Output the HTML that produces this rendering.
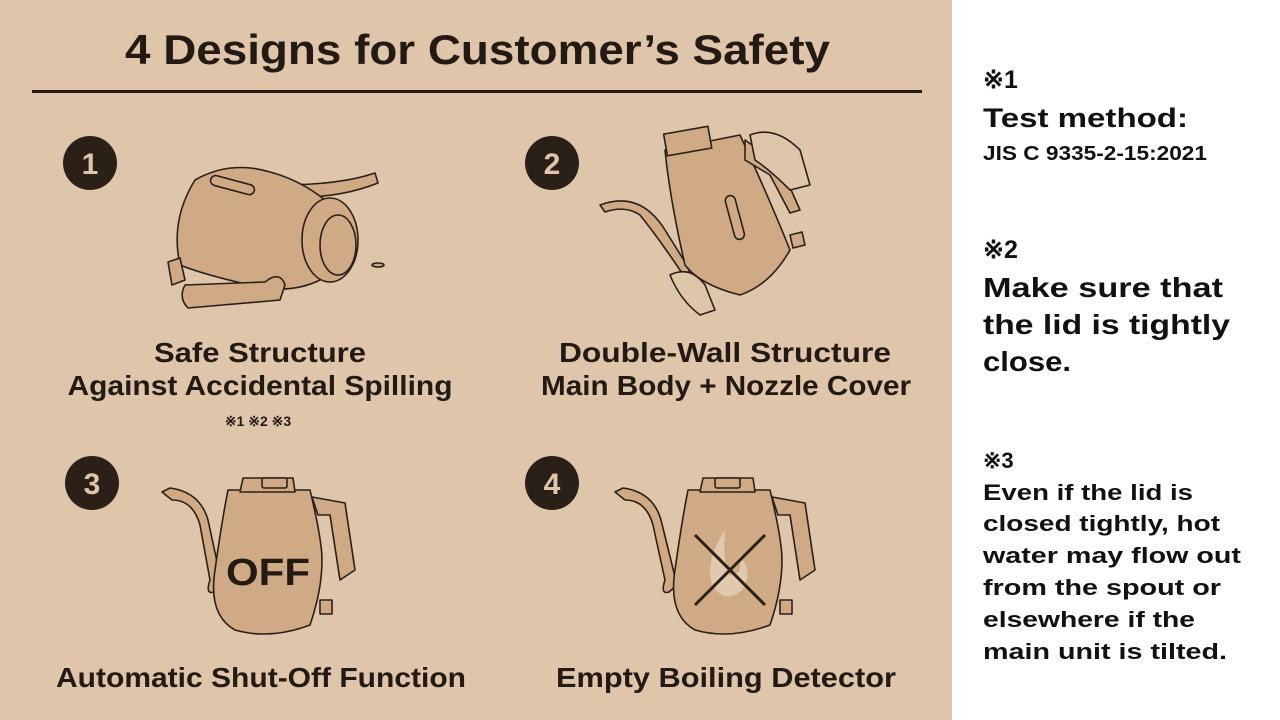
<!DOCTYPE html>
<html><head><meta charset="utf-8"><style>
html,body{margin:0;padding:0;background:#fff}
svg{display:block}
text{font-family:"Liberation Sans",sans-serif;font-weight:bold}
</style></head><body>
<svg width="1280" height="720" viewBox="0 0 1280 720" xmlns="http://www.w3.org/2000/svg">
<rect x="0" y="0" width="952" height="720" fill="#dfc5aa"/>
<rect x="952" y="0" width="328" height="720" fill="#ffffff"/>
<text x="125" y="64" font-size="42" fill="#231a14" textLength="705" lengthAdjust="spacingAndGlyphs">4 Designs for Customer’s Safety</text>
<rect x="32" y="90" width="890" height="3" fill="#231a14"/>
<g fill="#2a2018">
<circle cx="90" cy="163" r="27"/><circle cx="552" cy="163" r="27"/>
<circle cx="92" cy="483" r="27"/><circle cx="552" cy="483" r="27"/>
</g>
<g fill="#dfc5aa" font-size="30" text-anchor="middle">
<text x="90" y="174">1</text><text x="552" y="174">2</text>
<text x="92" y="494">3</text><text x="552" y="494">4</text>
</g>
<g fill="#d0aa84" stroke="#2a2018" stroke-width="1.6" stroke-linejoin="round">
<!-- kettle 1 lying -->
<path d="M280 185 Q340 185 375 173 L378 183 Q340 198 295 197 Z"/>
<path d="M195 180 Q230 160 270 172 Q300 180 325 200 L320 280 Q290 295 250 285 Q205 275 180 265 Q170 220 195 180 Z"/>
<ellipse cx="330" cy="240" rx="28" ry="42"/>
<ellipse cx="338" cy="245" rx="18" ry="30"/>
<rect x="210" y="180" width="45" height="10" rx="5" transform="rotate(15 232 185)"/>
<path d="M185 285 L265 282 Q280 270 285 285 L280 300 L188 308 Q178 298 185 285 Z"/>
<path d="M168 262 L180 258 L185 280 L172 285 Z"/>
<ellipse cx="378" cy="265" rx="6" ry="2"/>
<!-- kettle 2 tilted -->
<path d="M600 205 Q640 190 665 230 L690 270 L684 276 Q660 240 640 215 Q625 205 605 212 Z"/>
<path d="M665 150 L740 135 Q770 200 790 250 Q770 285 740 295 Q700 285 685 265 Q670 200 665 150 Z"/>
<rect x="665" y="130" width="45" height="22" transform="rotate(-10 688 140)"/>
<rect x="730" y="195" width="10" height="45" rx="5" transform="rotate(-15 735 218)"/>
<path d="M745 140 L780 165 L800 210 L790 213 L770 175 L745 160 Z"/>
<path d="M790 235 L802 232 L805 245 L793 248 Z"/>
<path d="M670 275 Q690 265 705 285 L715 310 L700 315 Q680 300 670 275 Z" fill="#dfc5aa"/>
<path d="M750 135 Q775 125 800 150 L810 185 L790 190 Q770 170 755 160 Z" fill="#dfc5aa"/>
<!-- kettle 3 -->
<path d="M162 492 L170 488 Q200 492 208 520 L222 585 L214 592 Q205 595 210 580 L200 525 Q193 500 172 500 Z"/>
<path d="M228 490 L310 490 Q322 540 322 560 Q322 590 310 625 Q270 640 235 630 Q208 615 215 570 Q222 520 228 490 Z"/>
<path d="M243 478 L293 478 L295 492 L240 492 Z"/>
<rect x="262" y="478" width="25" height="10" rx="2"/>
<path d="M312 497 L345 503 L355 570 L340 580 L330 515 L318 515 Z"/>
<rect x="320" y="600" width="12" height="14"/>
<!-- kettle 4 -->
<path d="M615 492 L623 488 Q653 492 661 520 L677 585 L669 592 Q660 595 665 580 L653 525 Q646 500 625 500 Z"/>
<path d="M688 490 L770 490 Q782 540 782 560 Q782 590 770 625 Q730 640 695 630 Q668 615 675 570 Q682 520 688 490 Z"/>
<path d="M703 478 L753 478 L755 492 L700 492 Z"/>
<rect x="715" y="478" width="25" height="10" rx="2"/>
<path d="M772 497 L805 503 L815 570 L800 580 L790 515 L778 515 Z"/>
<rect x="780" y="600" width="12" height="14"/>
</g>
<path d="M725 530 Q705 560 712 585 Q725 605 742 590 Q755 570 738 555 Q745 575 730 575 Q722 560 725 530 Z" fill="#e6d0b7" opacity="0.8"/>
<g stroke="#2a2018" stroke-width="3"><line x1="695" y1="535" x2="765" y2="605"/><line x1="765" y1="535" x2="695" y2="605"/></g>
<text x="226" y="585" font-size="38" fill="#231a14" textLength="84" lengthAdjust="spacingAndGlyphs">OFF</text>
<g fill="#231a14" font-size="28" text-anchor="middle">
<text x="260" y="362" textLength="212" lengthAdjust="spacingAndGlyphs">Safe Structure</text>
<text x="260" y="395" textLength="385" lengthAdjust="spacingAndGlyphs">Against Accidental Spilling</text>
<text x="725" y="362" textLength="332" lengthAdjust="spacingAndGlyphs">Double-Wall Structure</text>
<text x="726" y="395" textLength="370" lengthAdjust="spacingAndGlyphs">Main Body + Nozzle Cover</text>
<text x="261" y="687" textLength="410" lengthAdjust="spacingAndGlyphs">Automatic Shut-Off Function</text>
<text x="726" y="687" textLength="340" lengthAdjust="spacingAndGlyphs">Empty Boiling Detector</text>
</g>
<text x="258" y="426" font-size="14" fill="#231a14" text-anchor="middle" font-weight="normal">※1 ※2 ※3</text>
<g fill="#111">
<text x="983" y="88" font-size="25">※1</text>
<text x="983" y="127" font-size="27" textLength="205" lengthAdjust="spacingAndGlyphs">Test method:</text>
<text x="983" y="160" font-size="20" textLength="224" lengthAdjust="spacingAndGlyphs">JIS C 9335-2-15:2021</text>
<text x="983" y="258" font-size="25">※2</text>
<text x="983" y="297" font-size="28" textLength="240" lengthAdjust="spacingAndGlyphs">Make sure that</text>
<text x="983" y="334" font-size="28" textLength="247" lengthAdjust="spacingAndGlyphs">the lid is tightly</text>
<text x="983" y="371" font-size="28" textLength="88" lengthAdjust="spacingAndGlyphs">close.</text>
<text x="983" y="468" font-size="22">※3</text>
<g font-size="22">
<text x="983" y="500" textLength="210" lengthAdjust="spacingAndGlyphs">Even if the lid is</text>
<text x="983" y="531" textLength="237" lengthAdjust="spacingAndGlyphs">closed tightly, hot</text>
<text x="983" y="563" textLength="258" lengthAdjust="spacingAndGlyphs">water may flow out</text>
<text x="983" y="595" textLength="238" lengthAdjust="spacingAndGlyphs">from the spout or</text>
<text x="983" y="627" textLength="212" lengthAdjust="spacingAndGlyphs">elsewhere if the</text>
<text x="983" y="659" textLength="244" lengthAdjust="spacingAndGlyphs">main unit is tilted.</text>
</g>
</g>
</svg>
</body></html>
